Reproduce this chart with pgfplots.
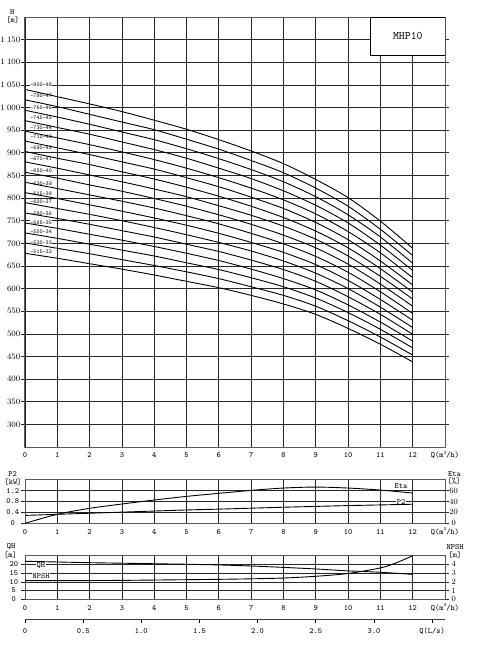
\documentclass[border=0pt]{standalone}
\usepackage{fontspec}
\usepackage{pgfplots}
\usepackage{pgfplotstable}
\pgfplotsset{compat=1.18}
\newcommand\fm{\ttfamily\fontsize{8bp}{9bp}\selectfont\addfontfeatures{LetterSpace=14,FakeBold=1.2}}
\newcommand\fc{\ttfamily\fontsize{8bp}{9bp}\selectfont\addfontfeatures{LetterSpace=24,FakeBold=1.2}}
\newcommand\fu{\ttfamily\fontsize{8bp}{9bp}\selectfont\addfontfeatures{LetterSpace=6,FakeBold=1.2}}
\newcommand\fr{\rmfamily\fontsize{8.3bp}{9bp}\selectfont\addfontfeatures{FakeBold=1.5}}
\newcommand\fs{\ttfamily\fontsize{5.8bp}{6bp}\selectfont\addfontfeatures{FakeBold=0.8}}
\newcommand\qlab{Q(m\raisebox{0.45em}{\fontsize{5bp}{5bp}\selectfont 3}/h)}
\newcommand\thou[1]{1\hspace{2.2bp}#1}

\pgfplotstableread{
Q h48 h47 h46 h45 h44 h43 h42 h41 h40 h39 h38 h37 h36 h35 h34 h33 h32
0 1040 1017 994 971 948 926 903 880 857 835 812 790 767 745 723 701 678
1 1024 1002 979 956 933 911 888 866 844 821 799 777 755 733 711 689 667
2 1008 985 963 941 918 896 874 851 829 807 785 764 742 720 698 677 655
3 991 968 946 924 902 880 858 836 815 793 771 750 728 707 685 664 643
4 972 951 929 907 885 864 842 820 799 778 756 735 714 693 672 651 630
5 952 930 909 888 866 845 824 803 782 761 740 719 698 678 657 637 616
6 929 908 887 866 845 825 804 783 763 743 722 702 682 662 642 622 602
7 904 883 863 843 822 802 782 762 742 722 702 683 663 643 624 604 585
8 876 856 836 816 796 777 757 738 718 699 680 661 642 622 604 585 566
9 841 822 803 784 765 746 727 709 690 671 653 634 616 597 579 561 543
10 801 782 763 745 726 708 690 672 654 636 618 600 582 564 547 529 512
11 749 731 714 696 679 661 644 627 610 593 576 559 543 526 510 493 477
12 689 673 656 640 624 608 592 577 561 545 530 514 499 484 469 453 438
}\heads

\pgfplotstableread{
Q P2 Eta
0 0.29 0
1 0.33 16.5
2 0.37 27.5
3 0.41 35.4
4 0.45 42.7
5 0.49 49.4
6 0.52 55.0
7 0.555 60.4
8 0.59 64.7
9 0.62 66.5
10 0.65 64.7
11 0.675 61.0
12 0.70 55.5
}\perf

\pgfplotstableread{
Q QH
0 21.8
1 21.4
2 21.0
3 20.7
4 20.4
5 20.1
6 19.7
7 19.1
8 18.3
9 17.4
10 16.3
11 15.5
12 14.3
}\qh

\pgfplotstableread{
Q NPSH
0 2.14
1 2.14
2 2.15
3 2.17
4 2.21
5 2.25
6 2.29
7 2.35
8 2.44
9 2.64
10 2.96
11 3.60
11.5 4.20
12 5.00
}\npsh

\pgfplotsset{
  panel/.style={
    scale only axis, width=420bp, xmin=0, xmax=13,
    xtick={0,1,...,13},
    xticklabels={0,1,2,3,4,5,6,7,8,9,10,11,12,{\qlab}},
    grid=major,
    major grid style={line width=0.7bp, black!85},
    axis line style={line width=1bp, black!65},
    xtick style={draw=none},
    ytick style={line width=0.7bp, black!85},
    xtick align=inside, ytick align=outside,
    major tick length=4bp,
    xticklabel style={font=\fm, inner sep=0pt, text height=5.5bp, text depth=1.5bp, yshift=-5bp},
  },
  curve/.style={black, line width=0.9bp, smooth, no marks},
}

\begin{document}
\begin{tikzpicture}
\useasboundingbox (0,0) rectangle (481bp,-649bp);

% ---------- main H-Q chart ----------
\begin{axis}[panel, at={(25bp,-447bp)}, anchor=south west, height=430bp,
  ymin=250, ymax=1200, ytick={300,350,...,1150},
  yticklabels={300,350,400,450,500,550,600,650,700,750,800,850,900,950,\thou{000},\thou{050},\thou{100},\thou{150}},
  yticklabel style={font=\fr, inner sep=0.5bp}]
  \foreach \v/\t in {1049.7/-800-48,1026/-780-47,999.6/-760-46,977.5/-745-45,956.3/-730-44,935.5/-710-43,911.2/-690-42,886.3/-670-41,860.4/-650-40,832.6/-630-39,810.5/-615-38,792.8/-600-37,766.3/-580-36,746.4/-565-35,726.5/-550-34,700.7/-530-33,680.8/-515-32}{
    \edef\tmp{\noexpand\node[font=\noexpand\fs, anchor=west, fill=white, inner sep=0.3bp] at (axis cs:0.15,\v) {\t};}\tmp
  }
  \pgfplotsinvokeforeach{48,47,...,32}{
    \addplot[curve] table[x=Q,y=h#1]{\heads};
  }
  \draw[black, line width=0.8bp, fill=white] (axis cs:10.69,1116) rectangle (axis cs:13,1200);
  \node[font=\ttfamily\fontsize{11.5bp}{12bp}\selectfont\addfontfeatures{FakeBold=0.8}] at (axis cs:11.85,1159) {MHP10};
\end{axis}
\node[font=\fu] at (12.3bp,-12.2bp) {H};
\node[font=\fu] at (12.8bp,-20.5bp) {[m]};

% ---------- P2 / Eta ----------
\begin{axis}[panel, at={(25bp,-523.3bp)}, anchor=south west, height=43.6bp,
  ymin=0, ymax=1.6, ytick={0,0.4,0.8,1.2}, yticklabels={0,0.4,0.8,1.2},
  yticklabel style={font=\fm, text width=16bp, align=center, inner sep=0pt}]
  \node[font=\fc, fill=white, inner sep=0.5bp] at (axis cs:11.64,0.78) {P2};
  \addplot[curve] table[x=Q,y=P2]{\perf};
\end{axis}
\begin{axis}[scale only axis, width=420bp, height=43.6bp, at={(25bp,-523.3bp)}, anchor=south west,
  xmin=0, xmax=13, ymin=0, ymax=80, hide x axis, axis y line*=right,
  y axis line style={draw=none}, ytick={0,20,40,60}, ytick style={draw=none}, ytick align=inside,
  yticklabel style={font=\fm, text width=12bp, align=center, inner sep=0pt, xshift=2.5bp}]
  \node[font=\fc, inner sep=0.5bp] at (axis cs:11.64,67.9) {Eta};
  \addplot[curve] table[x=Q,y=Eta]{\perf};
\end{axis}
\node[font=\fu] at (12.5bp,-474.5bp) {P2};
\node[font=\fu] at (13bp,-482bp) {[kW]};
\node[font=\fu] at (454.5bp,-474.5bp) {Eta};
\node[font=\fu] at (454bp,-481bp) {[\%]};

% ---------- QH / NPSH ----------
\begin{axis}[panel, at={(25bp,-599.3bp)}, anchor=south west, height=43.6bp,
  ymin=0, ymax=25, ytick={0,5,10,15,20}, yticklabels={0,5,10,15,20},
  yticklabel style={font=\fm, text width=14bp, align=center, inner sep=0pt}]
  \node[font=\fc, fill=white, inner sep=0.5bp] at (axis cs:0.49,19.6) {QH};
  \node[font=\fc, fill=white, inner sep=0.5bp] at (axis cs:0.5,13.2) {NPSH};
  \addplot[curve] table[x=Q,y=QH]{\qh};
\end{axis}
\begin{axis}[scale only axis, width=420bp, height=43.6bp, at={(25bp,-599.3bp)}, anchor=south west,
  xmin=0, xmax=13, ymin=0, ymax=5, hide x axis, axis y line*=right,
  y axis line style={draw=none}, ytick={0,1,2,3,4}, ytick style={draw=none}, ytick align=inside,
  yticklabel style={font=\fm, text width=12bp, align=center, inner sep=0pt, xshift=2.5bp}]
  \addplot[curve] table[x=Q,y=NPSH]{\npsh};
\end{axis}
\node[font=\fu] at (11bp,-547bp) {QH};
\node[font=\fu] at (10.5bp,-555bp) {[m]};
\node[font=\fu] at (455bp,-547bp) {NPSH};
\node[font=\fu] at (455bp,-555bp) {[m]};

% ---------- L/s scale ----------
\begin{axis}[scale only axis, width=420bp, height=5bp, at={(25bp,-619bp)}, anchor=south west,
  xmin=0, xmax=3.6111, ymin=0, ymax=1,
  axis x line=bottom, axis y line=none,
  x axis line style={-, line width=1bp, black!75},
  xtick={0,0.5,...,3.5}, xticklabels={0,0.5,1.0,1.5,2.0,2.5,3.0,Q(L/s)},
  xtick align=outside, major tick length=4bp,
  xtick style={line width=0.8bp, black},
  xticklabel style={font=\fm, inner sep=0pt, text height=5.5bp, text depth=1.5bp, yshift=-5bp}]
\end{axis}
\end{tikzpicture}
\end{document}
